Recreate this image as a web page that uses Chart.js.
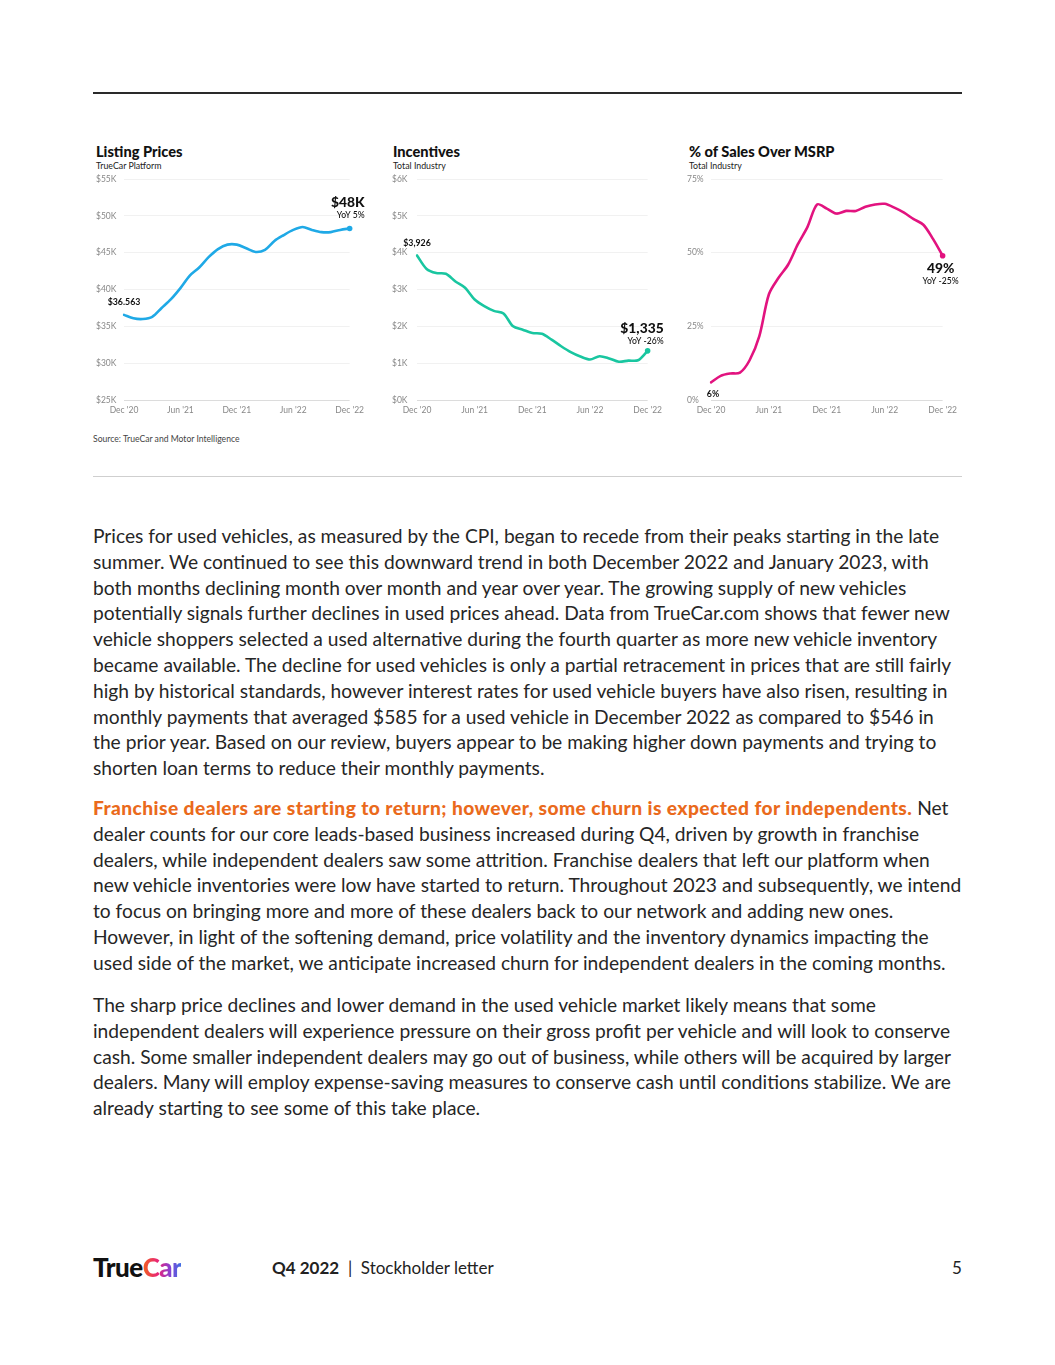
<!DOCTYPE html>
<html>
<head>
<meta charset="utf-8">
<script src="https://cdn.jsdelivr.net/npm/chart.js@4"></script>
<style>
  html, body { margin:0; padding:0; background:#fff; }
  body { width:1055px; height:1365px; position:relative; overflow:hidden; font-family: Lato, "Noto Sans", sans-serif; color:#222; }
  .abs { position:absolute; }
  .rule-top { left:93px; top:92px; width:869px; height:2px; background:#2a2a2a; }
  .rule-bot { left:93px; top:476px; width:869px; height:1px; background:#cfcfcf; }
  .ctitle { font-weight:900; font-size:14.6px; color:#111; line-height:14px; }
  .csub { font-size:8.8px; color:#222; line-height:9px; }
  .src { font-size:8.6px; color:#444; }
  .body { left:93px; font-size:19.2px; line-height:25.8px; color:#262626; white-space:nowrap; }
  .body div { height:25.8px; }
  .hl { color:#ea6a1c; font-weight:900; letter-spacing:0.42px; }
  .logo { left:93px; top:1251px; font-size:26px; font-weight:900; letter-spacing:-0.5px; color:#111; }
  .car { background:linear-gradient(90deg,#f0611f 0%,#e9237a 40%,#8a3fd0 70%,#3f6fe5 100%); -webkit-background-clip:text; background-clip:text; color:transparent; }
  .foot { left:272px; top:1257px; font-size:17px; color:#222; }
  .pg { left:952px; top:1257px; font-size:17px; color:#222; }
</style>
</head>
<body>
<div class="abs rule-top"></div>

<div class="abs ctitle" style="left:96px;top:145px;">Listing Prices</div>
<div class="abs csub" style="left:96px;top:161px;">TrueCar Platform</div>
<div class="abs ctitle" style="left:393px;top:145px;">Incentives</div>
<div class="abs csub" style="left:393px;top:161px;">Total Industry</div>
<div class="abs ctitle" style="left:689px;top:145px;">% of Sales Over MSRP</div>
<div class="abs csub" style="left:689px;top:161px;">Total Industry</div>

<div class="abs" style="left:96px;top:170px;width:273px;height:250px;"><canvas id="c1"></canvas></div>
<div class="abs" style="left:392px;top:170px;width:275px;height:250px;"><canvas id="c2"></canvas></div>
<div class="abs" style="left:687px;top:170px;width:275px;height:250px;"><canvas id="c3"></canvas></div>

<div class="abs src" style="left:93px;top:434px;">Source: TrueCar and Motor Intelligence</div>
<div class="abs rule-bot"></div>

<div class="abs body" style="top:523px;">
<div>Prices for used vehicles, as measured by the CPI, began to recede from their peaks starting in the late</div>
<div>summer. We continued to see this downward trend in both December 2022 and January 2023, with</div>
<div>both months declining month over month and year over year. The growing supply of new vehicles</div>
<div>potentially signals further declines in used prices ahead. Data from TrueCar.com shows that fewer new</div>
<div>vehicle shoppers selected a used alternative during the fourth quarter as more new vehicle inventory</div>
<div>became available. The decline for used vehicles is only a partial retracement in prices that are still fairly</div>
<div>high by historical standards, however interest rates for used vehicle buyers have also risen, resulting in</div>
<div>monthly payments that averaged $585 for a used vehicle in December 2022 as compared to $546 in</div>
<div>the prior year. Based on our review, buyers appear to be making higher down payments and trying to</div>
<div>shorten loan terms to reduce their monthly payments.</div>
</div>

<div class="abs body" style="top:795px;">
<div><span class="hl">Franchise dealers are starting to return; however, some churn is expected for independents.</span> Net</div>
<div>dealer counts for our core leads-based business increased during Q4, driven by growth in franchise</div>
<div>dealers, while independent dealers saw some attrition. Franchise dealers that left our platform when</div>
<div>new vehicle inventories were low have started to return. Throughout 2023 and subsequently, we intend</div>
<div>to focus on bringing more and more of these dealers back to our network and adding new ones.</div>
<div>However, in light of the softening demand, price volatility and the inventory dynamics impacting the</div>
<div>used side of the market, we anticipate increased churn for independent dealers in the coming months.</div>
</div>

<div class="abs body" style="top:992px;">
<div>The sharp price declines and lower demand in the used vehicle market likely means that some</div>
<div>independent dealers will experience pressure on their gross profit per vehicle and will look to conserve</div>
<div>cash. Some smaller independent dealers may go out of business, while others will be acquired by larger</div>
<div>dealers. Many will employ expense-saving measures to conserve cash until conditions stabilize. We are</div>
<div>already starting to see some of this take place.</div>
</div>

<div class="abs logo">True<span class="car">Car</span></div>
<div class="abs foot"><b>Q4 2022</b> &nbsp;|&nbsp; Stockholder letter</div>
<div class="abs pg">5</div>

<script>
// ---- data ----
const months = ["Dec '20","Jan '21","Feb '21","Mar '21","Apr '21","May '21","Jun '21","Jul '21","Aug '21","Sep '21","Oct '21","Nov '21",
                "Dec '21","Jan '22","Feb '22","Mar '22","Apr '22","May '22","Jun '22","Jul '22","Aug '22","Sep '22","Oct '22","Nov '22","Dec '22"];
const xTickLabels = ["Dec '20","Jun '21","Dec '21","Jun '22","Dec '22"];
const listingPrices = [36563,36100,36000,36300,37500,38700,40200,41900,43000,44400,45500,46100,46100,45600,45100,45400,46600,47400,48100,48500,48100,47800,47800,48100,48300];
const incentives = [3926,3560,3450,3430,3220,3050,2730,2550,2420,2350,2000,1910,1820,1800,1640,1460,1300,1180,1100,1190,1130,1040,1070,1080,1335];
const overMsrp = [6,8.2,9.0,9.3,13.5,21.6,35.9,41.5,46.0,52.9,58.8,66.4,65.0,63.3,64.2,64.2,65.6,66.4,66.6,65.3,63.6,61.4,59.5,54.7,49];
const listingTicks = ["$25K","$30K","$35K","$40K","$45K","$50K","$55K"];
const incentiveTicks = ["$0K","$1K","$2K","$3K","$4K","$5K","$6K"];
const msrpTicks = ["0%","25%","50%","75%"];
const listingNotes = { first:"$36.563", lastBig:"$48K", lastSmall:"YoY 5%" };
const incentiveNotes = { first:"$3,926", lastBig:"$1,335", lastSmall:"YoY -26%" };
const msrpNotes = { first:"6%", lastBig:"49%", lastSmall:"YoY -25%" };

const FONT = 'Lato, "Noto Sans", sans-serif';

const notePlugin = {
  id: 'notes',
  afterDatasetsDraw(chart, args, opts) {
    const ctx = chart.ctx;
    const pts = chart.getDatasetMeta(0).data;
    const p0 = pts[0], pn = pts[pts.length - 1];
    ctx.save();
    ctx.fillStyle = opts.color;
    ctx.beginPath(); ctx.arc(pn.x, pn.y, 2.8, 0, Math.PI * 2); ctx.fill();
    ctx.fillStyle = '#111';
    ctx.textBaseline = 'middle';
    ctx.font = '700 8.8px ' + FONT;
    ctx.textAlign = 'center';
    ctx.fillText(opts.first, p0.x + opts.firstDx, p0.y + opts.firstDy);
    ctx.textAlign = opts.lastAlign;
    const lx = pn.x + opts.lastDx;
    ctx.font = '900 13.8px ' + FONT;
    ctx.fillText(opts.lastBig, lx, pn.y + opts.lastDy);
    ctx.font = '500 8.6px ' + FONT;
    ctx.fillText(opts.lastSmall, lx, pn.y + opts.lastDy + 12.5);
    ctx.restore();
  }
};

function makeChart(id, data, color, yMin, yMax, step, yLabels, yWidth, notes) {
  return new Chart(document.getElementById(id), {
    type: 'line',
    data: { labels: months, datasets: [{ data, borderColor: color, borderWidth: 2.6, pointRadius: 0, tension: 0.3, fill: false, borderCapStyle:'round', borderJoinStyle:'round' }] },
    plugins: [notePlugin],
    options: {
      responsive: true, maintainAspectRatio: false, animation: false,
      layout: { padding: { top: 8, right: 16, left: 0, bottom: 0 } },
      plugins: { legend: { display: false }, tooltip: { enabled: false }, notes },
      scales: {
        x: {
          grid: { display: false, drawTicks: false }, border: { display: false },
          ticks: { autoSkip: false, maxRotation: 0, padding: 5, color: '#888', font: { family: FONT, size: 8.5 },
                   callback: (v, i) => xTickLabels.includes(months[i]) ? months[i] : '' },
          afterFit: s => { s.height = 20; }
        },
        y: {
          min: yMin, max: yMax,
          grid: { color: ctx => ctx.index === 0 ? '#dcdcdc' : '#f1f1f1', drawTicks: false, lineWidth: 1 },
          border: { display: false },
          ticks: { stepSize: step, padding: 4, crossAlign: 'far', color: '#888', font: { family: FONT, size: 8.5 },
                   callback: (v, i) => yLabels[i] },
          afterFit: s => { s.width = yWidth; }
        }
      }
    }
  });
}

makeChart('c1', listingPrices, '#1fa9e6', 25000, 55000, 5000, listingTicks, 28,
  { color:'#1fa9e6', first:listingNotes.first, firstDx:0, firstDy:-13, lastBig:listingNotes.lastBig, lastSmall:listingNotes.lastSmall, lastAlign:'right', lastDx:15, lastDy:-26 });
makeChart('c2', incentives, '#19c6a0', 0, 6000, 1000, incentiveTicks, 25,
  { color:'#19c6a0', first:incentiveNotes.first, firstDx:0, firstDy:-12, lastBig:incentiveNotes.lastBig, lastSmall:incentiveNotes.lastSmall, lastAlign:'right', lastDx:16, lastDy:-22 });
makeChart('c3', overMsrp, '#e2137f', 0, 75, 25, msrpTicks, 24,
  { color:'#e2137f', first:msrpNotes.first, firstDx:2, firstDy:12, lastBig:msrpNotes.lastBig, lastSmall:msrpNotes.lastSmall, lastAlign:'center', lastDx:-2, lastDy:13 });
</script>
</body>
</html>
